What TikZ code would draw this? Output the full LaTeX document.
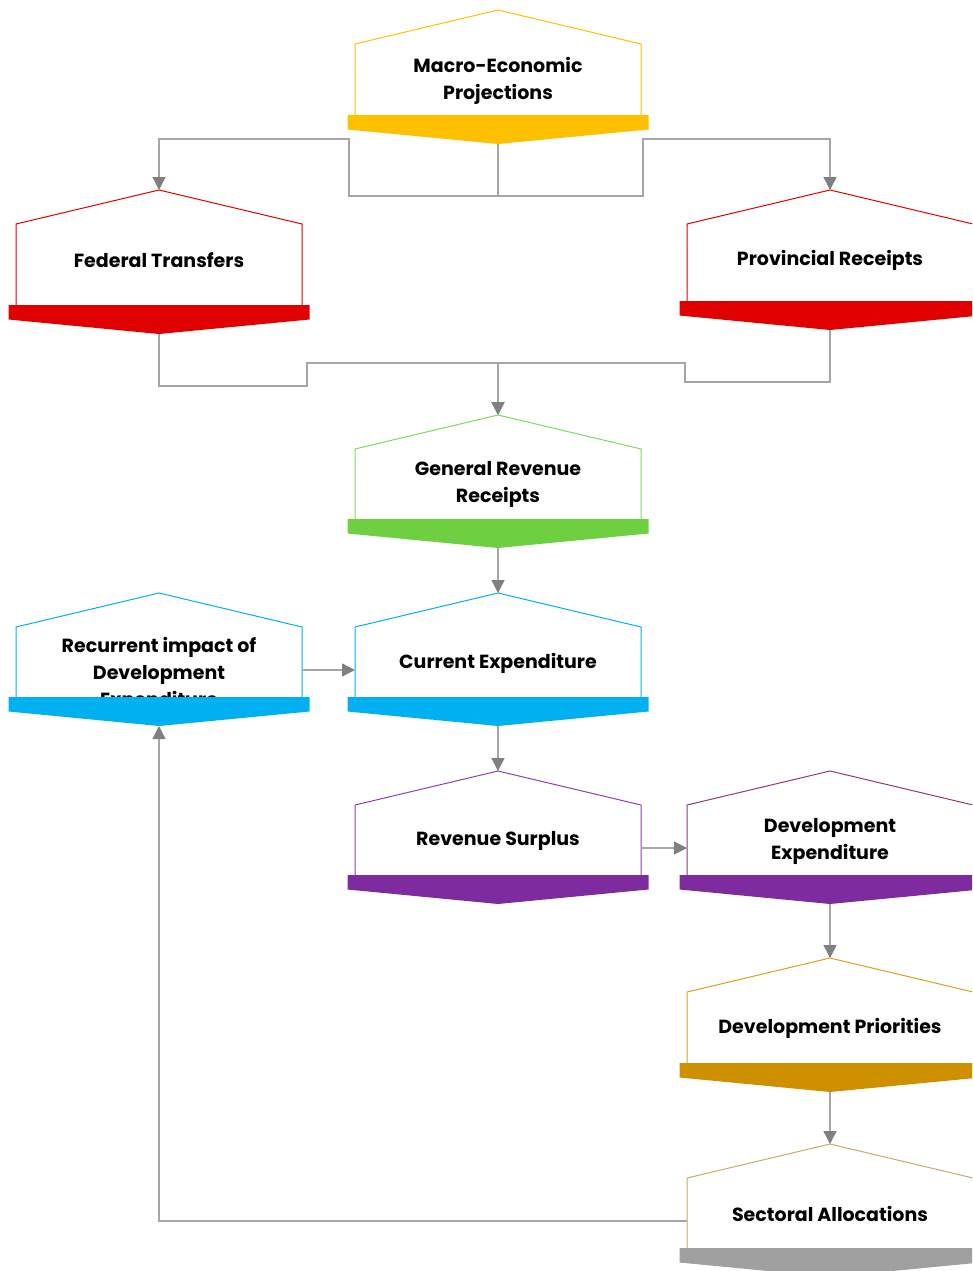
\documentclass[tikz,border=0pt]{standalone}
\usepackage{fontspec}
\setsansfont{Poppins}
\usepackage{tikz}
\usetikzlibrary{arrows.meta}

\definecolor{cyellow}{HTML}{FFC000}
\definecolor{cred}{HTML}{E00000}
\definecolor{cgreenline}{HTML}{80DA58}
\definecolor{cgreen}{HTML}{6ECF41}
\definecolor{cblue}{HTML}{00B0F0}
\definecolor{cpurpleline}{HTML}{8E3FB3}
\definecolor{cpurple}{HTML}{7F2BA0}
\definecolor{cdevline}{HTML}{8A3D7A}
\definecolor{cgoldline}{HTML}{D9A020}
\definecolor{cgold}{HTML}{CF9000}
\definecolor{ctanline}{HTML}{C8A96A}
\definecolor{cgreybar}{HTML}{A0A0A0}
\definecolor{clink}{HTML}{A6A6A6}
\definecolor{chead}{HTML}{808080}

\tikzset{
  boxtext/.style={align=center, font=\sffamily\bfseries\fontsize{19}{27}\selectfont, inner sep=0pt},
  link/.style={draw=clink, line width=1.4pt, -{Triangle[length=13pt,width=13pt,color=chead]}}
}

% #1 name, #2 centre x, #3 apex y, #4 bar y, #5 text y, #6 outline, #7 bar, #8 text
\newcommand{\budgetbox}[8]{%
  \draw[#6, line width=1pt] (#2-143,#4) -- (#2-143,#3+34) -- (#2,#3) -- (#2+143,#3+34) -- (#2+143,#4);
  \node[boxtext] (#1) at (#2,#5) {#8};
  \fill[#7] (#2-150.5,#4) -- (#2+150.5,#4) -- (#2+150.5,#4+14.5) -- (#2,#4+29) -- (#2-150.5,#4+14.5) -- cycle;
  \coordinate (#1-top) at (#2,#3);
  \coordinate (#1-tip) at (#2,#4+29);
  \coordinate (#1-left) at (#2-143,#3+77);
  \coordinate (#1-right) at (#2+143,#3+77);
}

\begin{document}
\begin{tikzpicture}[x=1pt,y=-1pt]
\useasboundingbox (0,0) rectangle (972,1271);
\clip (0,0) rectangle (972,1271);

\budgetbox{macro}{498}{10}{115}{81}{cyellow}{cyellow}{Macro-Economic\\Projections}
\budgetbox{fed}{159}{190}{305}{260}{cred}{cred}{Federal Transfers}
\budgetbox{prov}{830}{190}{301}{260}{cred}{cred}{Provincial Receipts}
\budgetbox{gen}{498}{415}{519}{484}{cgreenline}{cgreen}{General Revenue\\Receipts}
\budgetbox{rec}{159}{593}{697}{674}{cblue}{cblue}{Recurrent impact of\\Development\\Expenditure}
\budgetbox{cur}{498}{593}{697}{663}{cblue}{cblue}{Current Expenditure}
\budgetbox{rev}{498}{771}{875}{841}{cpurpleline}{cpurple}{Revenue Surplus}
\budgetbox{dev}{830}{771}{875}{841}{cdevline}{cpurple}{Development\\Expenditure}
\budgetbox{pri}{830}{958}{1063}{1028}{cgoldline}{cgold}{Development Priorities}
\budgetbox{sec}{830}{1144}{1248}{1214}{ctanline}{cgreybar}{Sectoral Allocations}

% projections feed both revenue sides
\draw[link] (macro-tip) |- (349,196) -- (349,139) -| (fed-top);
\draw[link] (macro-tip) |- (643,196) -- (643,139) -| (prov-top);

% receipts join
\draw[link] (fed-tip) |- (307,386) -- (307,363) -| (gen-top);
\draw[link] (prov-tip) |- (685,382) -- (685,363) -| (gen-top);

\draw[link] (gen-tip) -- (cur-top);
\draw[link] (rec-right) -- (cur-left);
\draw[link] (cur-tip) -- (rev-top);
\draw[link] (rev-right) -- (dev-left);
\draw[link] (dev-tip) -- (pri-top);
\draw[link] (pri-tip) -- (sec-top);
\draw[link] (sec-left) -| (rec-tip);
\end{tikzpicture}
\end{document}
